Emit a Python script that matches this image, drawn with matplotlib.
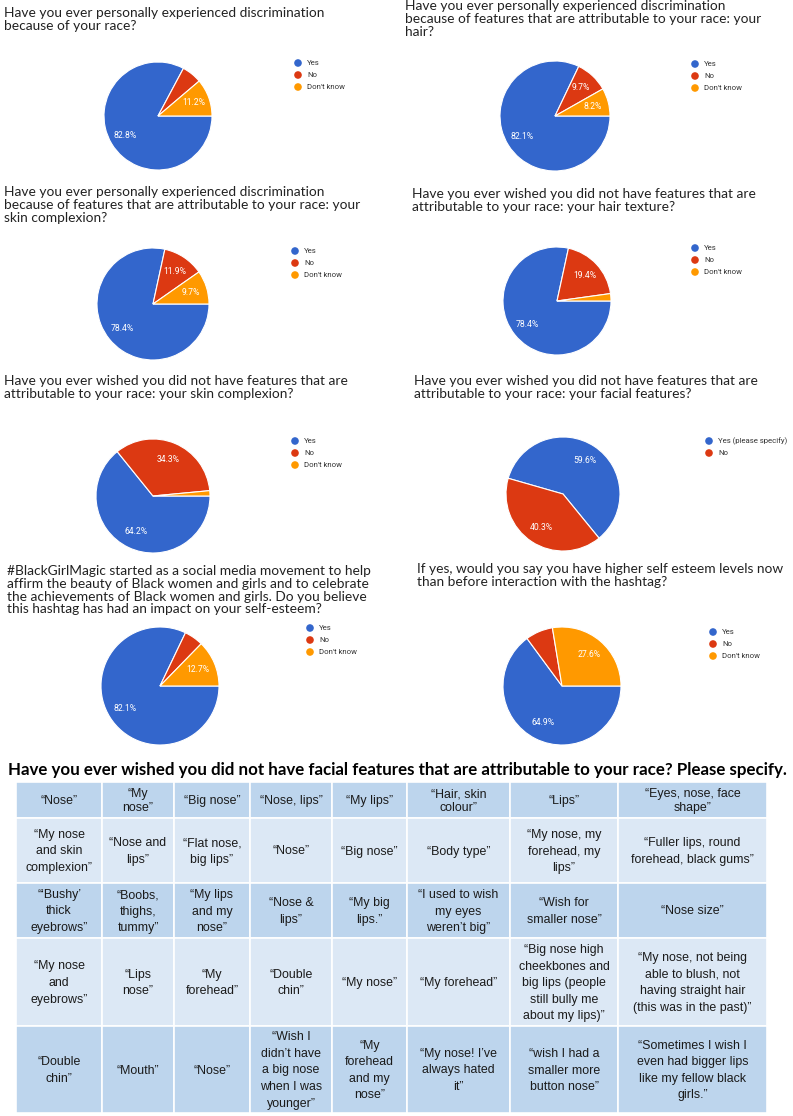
import matplotlib
matplotlib.use("Agg")
import matplotlib.pyplot as plt
from matplotlib import font_manager
from matplotlib.patches import Rectangle
import numpy as np

W, H = 793, 1116

# survey pie charts
pie_titles = [
    "Have you ever personally experienced discrimination\nbecause of your race?",
    "Have you ever personally experienced discrimination\nbecause of features that are attributable to your race: your\nhair?",
    "Have you ever personally experienced discrimination\nbecause of features that are attributable to your race: your\nskin complexion?",
    "Have you ever wished you did not have features that are\nattributable to your race: your hair texture?",
    "Have you ever wished you did not have features that are\nattributable to your race: your skin complexion?",
    "Have you ever wished you did not have features that are\nattributable to your race: your facial features?",
    "#BlackGirlMagic started as a social media movement to help\naffirm the beauty of Black women and girls and to celebrate\nthe achievements of Black women and girls. Do you believe\nthis hashtag has had an impact on your self-esteem?",
    "If yes, would you say you have higher self esteem levels now\nthan before interaction with the hashtag?",
]
answers3 = ["Yes", "No", "Don't know"]
answers2 = ["Yes (please specify)", "No"]

disc_race = [82.8, 6.0, 11.2]
disc_hair = [82.1, 9.7, 8.2]
disc_skin = [78.4, 11.9, 9.7]
wish_hair = [78.4, 19.4, 2.2]
wish_skin = [64.2, 34.3, 1.5]
wish_face = [59.6, 40.3]
hashtag_impact = [82.1, 5.2, 12.7]
higher_esteem = [64.9, 7.5, 27.6]

pie_values = [disc_race, disc_hair, disc_skin, wish_hair,
              wish_skin, wish_face, hashtag_impact, higher_esteem]
pie_answers = [answers3] * 5 + [answers2] + [answers3] * 2

# layout in pixels: title anchor, pie centre + radius, legend anchor
title_xy = [(4, 7), (405, 0), (4, 186), (412, 188), (4, 375), (414, 375), (7, 565), (417, 563)]
centers = [(158, 116), (555, 116), (153, 304), (557, 301),
           (153, 496), (563, 494), (160, 686), (562, 686)]
radii = [54, 55, 56, 54, 57, 57, 59, 59]
legend_xy = [(298, 63), (695, 64), (295, 251), (695, 248),
             (295, 441), (709, 441), (310, 628), (713, 632)]
start_angles = [0, 0, 0, 0, 0, 164, 0, 0]

colors = ["#3366cc", "#dc3912", "#ff9900"]

# table of free-text answers
table_title = ("Have you ever wished you did not have facial features that are "
               "attributable to your race? Please specify.")
table_rows = [
    ["“Nose”", "“My\nnose”", "“Big nose”", "“Nose, lips”", "“My lips”",
     "“Hair, skin\ncolour”", "“Lips”", "“Eyes, nose, face\nshape”"],
    ["“My nose\nand skin\ncomplexion”", "“Nose and\nlips”", "“Flat nose,\nbig lips”",
     "“Nose”", "“Big nose”", "“Body type”", "“My nose, my\nforehead, my\nlips”",
     "“Fuller lips, round\nforehead, black gums”"],
    ["“‘Bushy’\nthick\neyebrows”", "“Boobs,\nthighs,\ntummy”", "“My lips\nand my\nnose”",
     "“Nose &\nlips”", "“My big\nlips.”", "“I used to wish\nmy eyes\nweren’t big”",
     "“Wish for\nsmaller nose”", "“Nose size”"],
    ["“My nose\nand\neyebrows”", "“Lips\nnose”", "“My\nforehead”", "“Double\nchin”",
     "“My nose”", "“My forehead”",
     "“Big nose high\ncheekbones and\nbig lips (people\nstill bully me\nabout my lips)”",
     "“My nose, not being\nable to blush, not\nhaving straight hair\n(this was in the past)”"],
    ["“Double\nchin”", "“Mouth”", "“Nose”",
     "“Wish I\ndidn’t have\na big nose\nwhen I was\nyounger”",
     "“My\nforehead\nand my\nnose”", "“My nose! I’ve\nalways hated\nit”",
     "“wish I had a\nsmaller more\nbutton nose”",
     "“Sometimes I wish I\neven had bigger lips\nlike my fellow black\ngirls.”"],
]
col_edges = [16, 102, 174, 250, 332, 407, 510, 618, 767]
row_edges = [782, 818, 883, 938, 1026, 1113]
row_colors = ["#bdd5ed", "#dce8f5"]

names = {f.name for f in font_manager.fontManager.ttflist}
if "Liberation Sans Narrow" in names:
    cell_font, cell_size = "Liberation Sans Narrow", 10.6
else:
    cell_font, cell_size = "Liberation Sans", 8.9

fig = plt.figure(figsize=(W / 100, H / 100), dpi=100)
ov = fig.add_axes([0, 0, 1, 1])
ov.set_xlim(0, W)
ov.set_ylim(H, 0)
ov.axis("off")

for i, vals in enumerate(pie_values):
    cx, cy = centers[i]
    r = radii[i]
    ax = fig.add_axes([(cx - r) / W, 1 - (cy + r) / H, 2 * r / W, 2 * r / H])
    wedges, _ = ax.pie(vals, colors=colors[:len(vals)], startangle=start_angles[i],
                       counterclock=False, radius=1,
                       wedgeprops=dict(edgecolor="white", linewidth=0.8))
    ax.set_xlim(-1, 1)
    ax.set_ylim(-1, 1)
    ax.set_aspect("equal")
    ax.axis("off")
    for w, v in zip(wedges, vals):
        if v < 8:
            continue
        mid = np.deg2rad((w.theta1 + w.theta2) / 2)
        ax.text(0.7 * np.cos(mid), 0.7 * np.sin(mid), f"{v}%", color="white",
                ha="center", va="center", fontsize=6.2, family="Roboto")

    tx, ty = title_xy[i]
    ov.text(tx, ty, pie_titles[i], ha="left", va="top", fontsize=9.9,
            family="Lato", color="#222222", linespacing=1.08)

    lx, ly = legend_xy[i]
    for k, lab in enumerate(pie_answers[i]):
        ov.scatter(lx, ly + 12 * k, s=30, color=colors[k], edgecolor="none")
        ov.text(lx + 9, ly + 12 * k, lab, ha="left", va="center",
                fontsize=5.6, family="Roboto", color="#333333")

ov.text(W / 2 + 1, 770, table_title, ha="center", va="center", fontsize=12.2,
        family="Lato", weight="bold", color="black")

for ri, row in enumerate(table_rows):
    y0, y1 = row_edges[ri], row_edges[ri + 1]
    for ci, cell in enumerate(row):
        x0, x1 = col_edges[ci], col_edges[ci + 1]
        ov.add_patch(Rectangle((x0, y0), x1 - x0, y1 - y0,
                               facecolor=row_colors[ri % 2], edgecolor="white", lw=1.2))
        ov.text((x0 + x1) / 2, (y0 + y1) / 2 + 1, cell, ha="center", va="center",
                fontsize=cell_size, family=cell_font, color="#1a1a1a",
                linespacing=1.15 if ri == 0 else 1.5)

fig.savefig("out.png", dpi=100)
